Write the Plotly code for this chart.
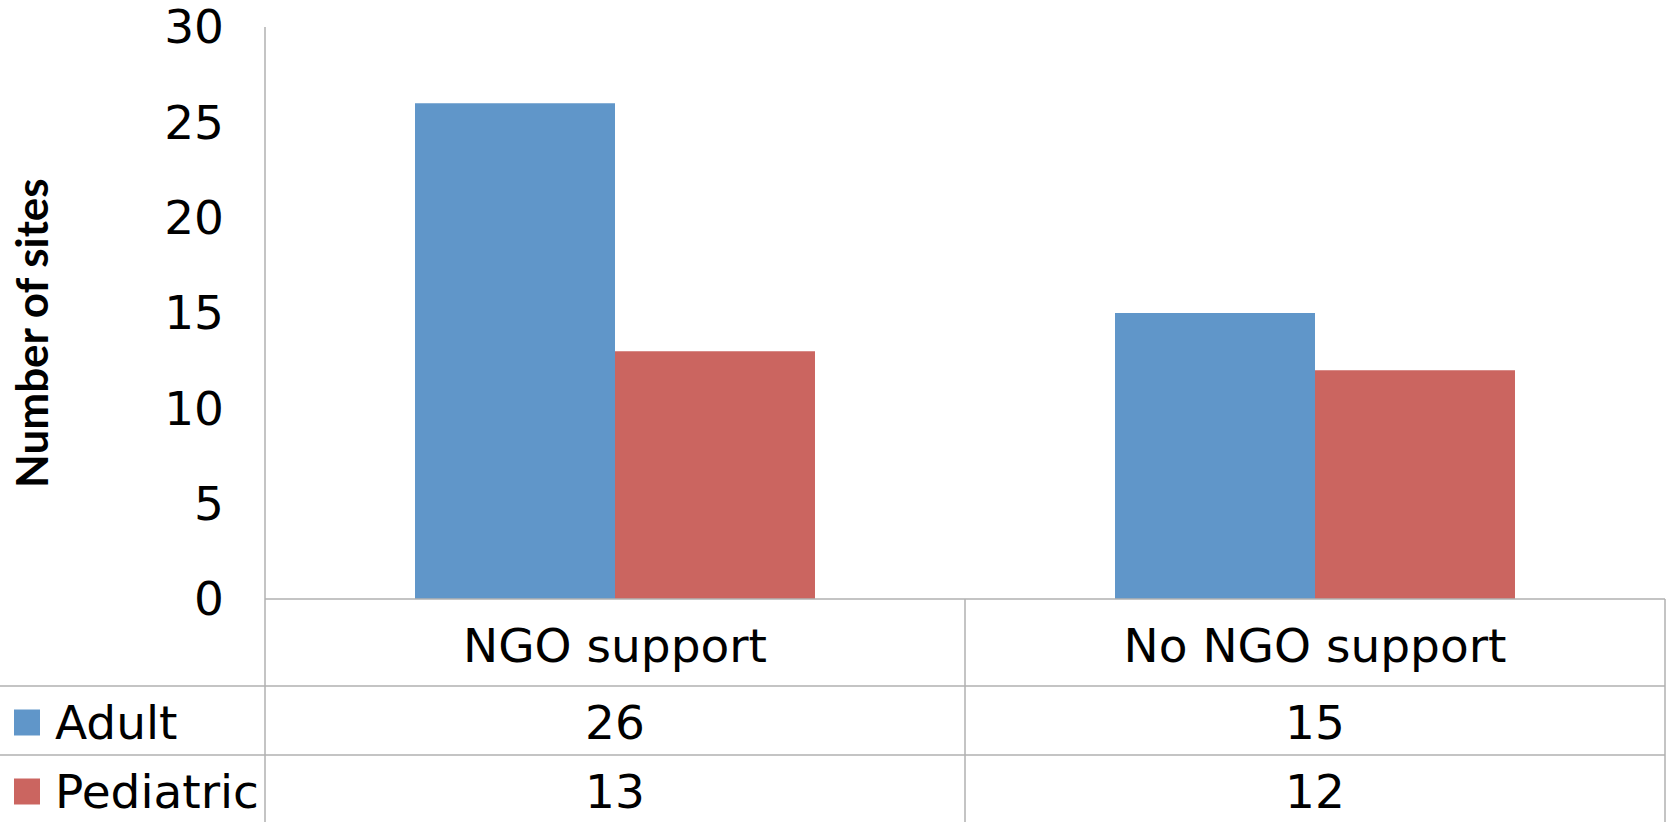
import plotly.graph_objects as go

# Data
categories = ["NGO support", "No NGO support"]
series_names = ["Adult", "Pediatric"]
adult = [26, 15]
pediatric = [13, 12]
series_values = [adult, pediatric]
colors = ["#6096C9", "#CB6560"]
y_ticks = [0, 5, 10, 15, 20, 25, 30]

W, H = 1670, 822
FONT = "DejaVu Sans"
LINE = "#B0B0B0"

# pixel helpers -> paper coordinates
def px(x):
    return x / W

def py(y):
    return 1 - y / H

PLOT_L, PLOT_R = 265, 1665
PLOT_T, PLOT_B = 27, 599
ROW1_B, ROW2_B = 686, 755

fig = go.Figure()
for name, vals, col in zip(series_names, series_values, colors):
    fig.add_trace(go.Bar(
        x=categories, y=vals, name=name, marker=dict(color=col, line=dict(width=0)),
        showlegend=False,
    ))

shapes = []
def hline(y, x0, x1):
    shapes.append(dict(type="line", xref="paper", yref="paper", x0=px(x0), x1=px(x1),
                       y0=py(y), y1=py(y), line=dict(color=LINE, width=1.5)))

def vline(x, y0, y1):
    shapes.append(dict(type="line", xref="paper", yref="paper", x0=px(x), x1=px(x),
                       y0=py(y0), y1=py(y1), line=dict(color=LINE, width=1.5)))

# data table grid
hline(PLOT_B, PLOT_L, PLOT_R)
hline(ROW1_B, 0, PLOT_R)
hline(ROW2_B, 0, PLOT_R)
vline(PLOT_L, PLOT_T, H)
vline((PLOT_L + PLOT_R) / 2, PLOT_B, H)
vline(PLOT_R, PLOT_B, H)

annotations = []
row_centers = [(ROW1_B + ROW2_B) / 2 + 2, (ROW2_B + H) / 2 + 3]
for r, (name, vals, col) in enumerate(zip(series_names, series_values, colors)):
    yc = row_centers[r]
    # legend key
    shapes.append(dict(type="rect", xref="paper", yref="paper",
                       x0=px(14), x1=px(40), y0=py(yc - 13), y1=py(yc + 13),
                       fillcolor=col, line=dict(width=0)))
    annotations.append(dict(text=name, xref="paper", yref="paper", x=px(53), y=py(yc),
                            xanchor="left", yanchor="middle", showarrow=False,
                            font=dict(family=FONT, size=47, color="black")))
    for cat, v in zip(categories, vals):
        annotations.append(dict(text=str(v), xref="x", yref="paper", x=cat, y=py(yc),
                                xanchor="center", yanchor="middle", showarrow=False,
                                font=dict(family=FONT, size=47, color="black")))

annotations.append(dict(text="<b>Number of sites</b>", xref="paper", yref="paper",
                        x=px(31), y=py(333), textangle=-90, xanchor="center",
                        yanchor="middle", showarrow=False,
                        font=dict(family="Lato", size=44, color="black")))

fig.update_layout(
    width=W, height=H, margin=dict(l=0, r=0, t=0, b=0, autoexpand=False),
    paper_bgcolor="white", plot_bgcolor="white",
    barmode="group", bargap=0.4286, bargroupgap=0,
    xaxis=dict(domain=[px(PLOT_L), px(PLOT_R)], showline=False, showgrid=False,
               zeroline=False, ticks="", ticklabelstandoff=15, automargin=False,
               tickfont=dict(family=FONT, size=47, color="black")),
    yaxis=dict(domain=[py(PLOT_B), py(PLOT_T)], range=[0, 30], tickvals=y_ticks,
               showline=False, showgrid=False, zeroline=False, ticks="",
               ticklabelstandoff=40, automargin=False, ticklabeloverflow="allow",
               tickfont=dict(family=FONT, size=47, color="black")),
    shapes=shapes, annotations=annotations,
)

fig.write_html("out.html")
